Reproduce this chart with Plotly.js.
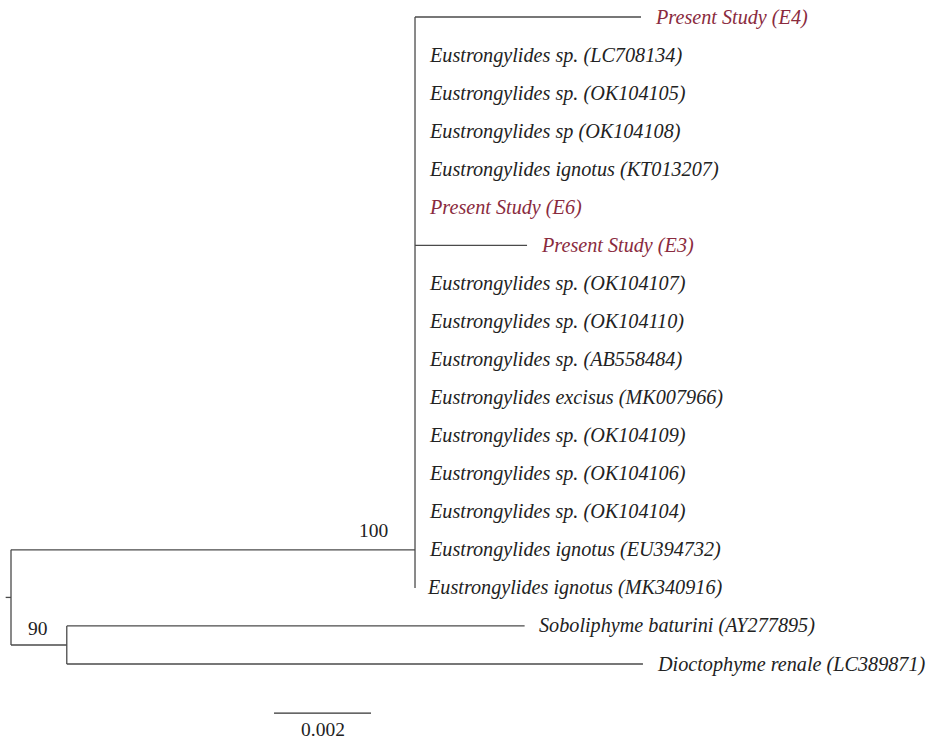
<!DOCTYPE html>
<html>
<head>
<meta charset="utf-8">
<script src="https://cdn.plot.ly/plotly-3.0.1.min.js"></script>
<style>html,body{margin:0;padding:0;background:#fff;}#chart{width:929px;height:739px;}</style>
</head>
<body>
<div id="chart"></div>
<script>
// ---- Data: taxa in display order (top to bottom) ----
const taxa = [
  "Present Study (E4)",
  "Eustrongylides sp. (LC708134)",
  "Eustrongylides sp. (OK104105)",
  "Eustrongylides sp (OK104108)",
  "Eustrongylides ignotus (KT013207)",
  "Present Study (E6)",
  "Present Study (E3)",
  "Eustrongylides sp. (OK104107)",
  "Eustrongylides sp. (OK104110)",
  "Eustrongylides sp. (AB558484)",
  "Eustrongylides excisus (MK007966)",
  "Eustrongylides sp. (OK104109)",
  "Eustrongylides sp. (OK104106)",
  "Eustrongylides sp. (OK104104)",
  "Eustrongylides ignotus (EU394732)",
  "Eustrongylides ignotus (MK340916)",
  "Soboliphyme baturini (AY277895)",
  "Dioctophyme renale (LC389871)"
];
const presentStudy = [1,0,0,0,0,1,1,0,0,0,0,0,0,0,0,0,0,0];
// terminal branch lengths (substitutions/site)
const tipLengths = [0.00466,0,0,0,0,0,0.00231,0,0,0,0,0,0,0,0,0,0.00944,0.01188];
// internal nodes: Eustrongylides clade and Dioctophymatidae outgroup clade
const cladeNames   = ["Eustrongylides", "Outgroup"];
const cladeLengths = [0.00833, 0.00115];
const cladeMembers = [[0,15], [16,17]];     // first and last tip index
const cladeNodeRow = [14, 16.5];            // vertical position of node as drawn
const cladeSupport = [100, 90];
const rootStub = 0.00011;
const scaleBarLength = 0.002;
const scaleBarStart = 0.005423;
const scaleBarRow = 18.29;

const SERIF = "'Liberation Serif', 'Times New Roman', 'DejaVu Serif', serif";

// ---- Build line segments ----
const lx = [], ly = [];
function seg(x0,y0,x1,y1){ lx.push(x0,x1,null); ly.push(y0,y1,null); }
const annotations = [];
const rootY = (cladeNodeRow[0] + cladeNodeRow[1]) / 2;
seg(-rootStub, rootY, 0, rootY);
seg(0, cladeNodeRow[0], 0, cladeNodeRow[1]);
cladeNames.forEach((c, k) => {
  const nx = cladeLengths[k];
  const ny = cladeNodeRow[k];
  seg(0, ny, nx, ny);
  const [a, b] = cladeMembers[k];
  seg(nx, a, nx, b);
  for (let i = a; i <= b; i++) {
    const tx = nx + tipLengths[i];
    if (tipLengths[i] > 0) seg(nx, i, tx, i);
    annotations.push({
      x: tx, y: i, xref: 'x', yref: 'y', text: taxa[i], showarrow: false,
      xanchor: 'left', yanchor: 'middle', xshift: i === 15 ? 10 : 12,
      font: {family: SERIF, size: 20.2, color: presentStudy[i] ? '#8a2b3e' : '#222', style: 'italic'}
    });
  }
  annotations.push({
    x: nx, y: ny, xref: 'x', yref: 'y', text: String(cladeSupport[k]), showarrow: false,
    xanchor: 'right', yanchor: 'bottom', xshift: k === 0 ? -25 : -17, yshift: k === 0 ? 7 : 4,
    font: {family: SERIF, size: 19.5, color: '#222'}
  });
});
// scale bar
const sx = [scaleBarStart, scaleBarStart + scaleBarLength];
annotations.push({
  x: scaleBarStart + scaleBarLength/2, y: scaleBarRow, xref: 'x', yref: 'y',
  text: String(scaleBarLength), showarrow: false, yanchor: 'top', yshift: -4,
  font: {family: SERIF, size: 19.5, color: '#222'}
});

const traces = [
  {x: lx, y: ly, mode: 'lines', line: {color: '#4a4a4a', width: 1.3}, hoverinfo: 'skip', showlegend: false},
  {x: sx, y: [scaleBarRow, scaleBarRow], mode: 'lines', line: {color: '#333', width: 1.3}, hoverinfo: 'skip', showlegend: false}
];

const pxPerUnit = 48500, rowPx = 38.06, x0px = 11, y0px = 17;
const layout = {
  width: 929, height: 739,
  margin: {l: 0, r: 0, t: 0, b: 0},
  paper_bgcolor: '#fff', plot_bgcolor: '#fff',
  font: {family: SERIF},
  xaxis: {range: [-x0px/pxPerUnit, (929 - x0px)/pxPerUnit], visible: false, fixedrange: true},
  yaxis: {range: [(739 - y0px)/rowPx, -y0px/rowPx], visible: false, fixedrange: true},
  annotations: annotations,
  showlegend: false
};
Plotly.newPlot('chart', traces, layout, {staticPlot: true});
</script>
</body>
</html>
